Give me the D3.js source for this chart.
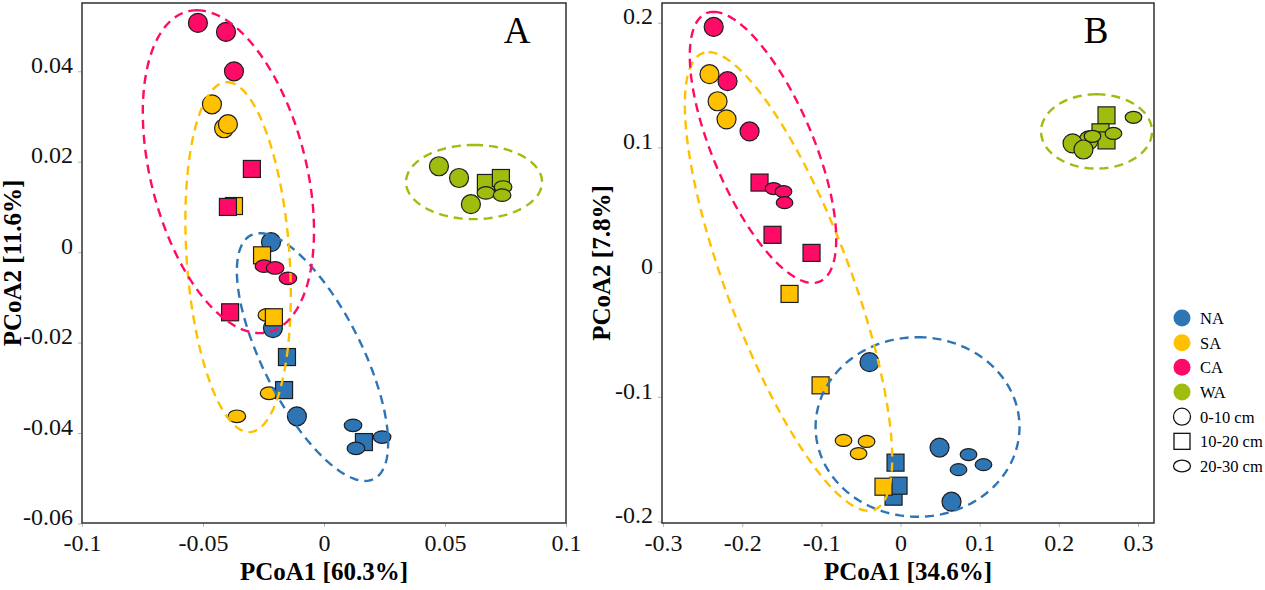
<!DOCTYPE html>
<html>
<head>
<meta charset="utf-8">
<script src="https://cdn.jsdelivr.net/npm/d3@7"></script>
<style>
  body { margin: 0; background: #fff; }
  svg { display: block; }
  text { font-family: "Liberation Serif", "Times New Roman", serif; }
</style>
</head>
<body>
<script>
// groups and soil depths
const groups = ["NA", "SA", "CA", "WA"];
const depths = ["0-10 cm", "10-20 cm", "20-30 cm"];   // 0 circle, 1 square, 2 ellipse

// panel A: [group, depth, PCoA1, PCoA2] (drawing order)
const pointsA = [
  ["NA", 0, -0.0219, 0.0022], ["NA", 0, -0.0211, -0.0168], ["NA", 0, -0.0112, -0.0363],
  ["SA", 0, -0.0463, 0.0327], ["SA", 0, -0.0413, 0.0274], ["SA", 0, -0.0397, 0.0283],
  ["CA", 0, -0.0521, 0.0507], ["CA", 0, -0.0405, 0.0487], ["CA", 0, -0.0372, 0.0400],
  ["WA", 0, 0.0475, 0.0190], ["WA", 0, 0.0558, 0.0164], ["WA", 0, 0.0607, 0.0106],
  ["SA", 2, -0.0236, -0.0139], ["SA", 2, -0.0227, -0.0312], ["SA", 2, -0.0360, -0.0363],
  ["NA", 1, -0.0153, -0.0232], ["NA", 1, -0.0165, -0.0305], ["NA", 1, 0.0165, -0.0420],
  ["SA", 1, -0.0372, 0.0102], ["SA", 1, -0.0256, -0.0007], ["SA", 1, -0.0207, -0.0144],
  ["CA", 1, -0.0298, 0.0184], ["CA", 1, -0.0397, 0.0100], ["CA", 1, -0.0388, -0.0133],
  ["WA", 1, 0.0669, 0.0153], ["WA", 1, 0.0731, 0.0164],
  ["NA", 2, 0.0120, -0.0383], ["NA", 2, 0.0132, -0.0434], ["NA", 2, 0.0240, -0.0409],
  ["CA", 2, -0.0248, -0.0031], ["CA", 2, -0.0202, -0.0035], ["CA", 2, -0.0149, -0.0058],
  ["WA", 2, 0.0669, 0.0131], ["WA", 2, 0.0740, 0.0144], ["WA", 2, 0.0736, 0.0126]
];

// panel B
const pointsB = [
  ["NA", 0, -0.0392, -0.0722], ["NA", 0, 0.0493, -0.1407], ["NA", 0, 0.0644, -0.1841],
  ["SA", 0, -0.2413, 0.1587], ["SA", 0, -0.2311, 0.1370], ["SA", 0, -0.2198, 0.1225],
  ["CA", 0, -0.2360, 0.1966], ["CA", 0, -0.2185, 0.1531], ["CA", 0, -0.1907, 0.1128],
  ["WA", 0, 0.2375, 0.1056], ["WA", 0, 0.2173, 0.1032], ["WA", 0, 0.2311, 0.0983],
  ["NA", 1, -0.0088, -0.1801], ["NA", 1, -0.0063, -0.1528], ["NA", 1, -0.0025, -0.1713],
  ["SA", 1, -0.1402, -0.0175], ["SA", 1, -0.1010, -0.0908], ["SA", 1, -0.0215, -0.1721],
  ["CA", 1, -0.1781, 0.0718], ["CA", 1, -0.1617, 0.0299], ["CA", 1, -0.1124, 0.0154],
  ["WA", 1, 0.2602, 0.1257], ["WA", 1, 0.2526, 0.1121], ["WA", 1, 0.2602, 0.1056],
  ["NA", 2, 0.0859, -0.1463], ["NA", 2, 0.0733, -0.1584], ["NA", 2, 0.1048, -0.1544],
  ["SA", 2, -0.0720, -0.1350], ["SA", 2, -0.0429, -0.1358], ["SA", 2, -0.0530, -0.1455],
  ["CA", 2, -0.1604, 0.0670], ["CA", 2, -0.1478, 0.0646], ["CA", 2, -0.1465, 0.0557],
  ["WA", 2, 0.2425, 0.1089], ["WA", 2, 0.2690, 0.1112], ["WA", 2, 0.2943, 0.1241]
];

// group ellipses in data units: [group, cx, cy, dx of top point, half height, half width at centre]
const ellipsesA = [
  ["NA", -0.00475, -0.0232, -0.0217, 0.0274, 0.0225],
  ["SA", -0.0355, -0.0011, -0.00455, 0.0387, 0.0213],
  ["CA", -0.0395, 0.0178, -0.0130, 0.0357, 0.0329],
  ["WA", 0.0620, 0.0155, 0, 0.0082, 0.0281]
];
const ellipsesB = [
  ["NA", 0.0215, -0.1242, 0, 0.0720, 0.1288],
  ["SA", -0.1415, -0.0075, -0.1010, 0.1839, 0.0834],
  ["CA", -0.1737, 0.1000, -0.0625, 0.1087, 0.0682],
  ["WA", 0.2476, 0.1128, 0, 0.0298, 0.0701]
];

const ticksAX = [-0.1, -0.05, 0, 0.05, 0.1];
const ticksAY = [-0.06, -0.04, -0.02, 0, 0.02, 0.04];
const ticksBX = [-0.3, -0.2, -0.1, 0, 0.1, 0.2, 0.3];
const ticksBY = [-0.2, -0.1, 0, 0.1, 0.2];

const colors = { NA: "#2E75B6", SA: "#FFC000", CA: "#FF0A66", WA: "#9EBD0F" };

const width = 1265, height = 590;
const plotTop = 3, plotBottom = 523;

const svg = d3.select("body").append("svg")
  .attr("width", width).attr("height", height);

const fmt = d => d === 0 ? "0" : String(+d.toFixed(4));

function marker(g, depth, cx, cy, s) {
  if (depth === 0) {
    return g.append("circle").attr("cx", cx).attr("cy", cy).attr("r", s.r);
  } else if (depth === 1) {
    return g.append("rect").attr("x", cx - s.sq / 2).attr("y", cy - s.sq / 2)
      .attr("width", s.sq).attr("height", s.sq);
  }
  return g.append("ellipse").attr("cx", cx).attr("cy", cy).attr("rx", s.ex).attr("ry", s.ey);
}

function drawPanel(cfg) {
  const x = d3.scaleLinear().domain(cfg.xDomain).range([cfg.left, cfg.right]);
  const y = d3.scaleLinear().domain(cfg.yDomain).range([plotBottom, plotTop]);
  const g = svg.append("g");

  // axes
  const ax = g.append("g").attr("transform", `translate(0,${plotBottom})`)
    .call(d3.axisBottom(x).tickValues(cfg.xTicks).tickSize(4).tickFormat(fmt));
  ax.selectAll("text").attr("y", 28).attr("dy", 0);
  const ay = g.append("g").attr("transform", `translate(${cfg.left},0)`)
    .call(d3.axisLeft(y).tickValues(cfg.yTicks).tickSize(4).tickPadding(5).tickFormat(fmt));
  ay.selectAll("text").attr("dy", "0.05em");
  [ax, ay].forEach(a => {
    a.select(".domain").remove();
    a.selectAll("line").attr("stroke", "#b5b5b5");
    a.selectAll("text").attr("font-size", 24).attr("fill", "#111")
      .attr("font-family", "Liberation Serif, serif");
  });

  g.append("rect")
    .attr("x", cfg.left).attr("y", plotTop)
    .attr("width", cfg.right - cfg.left).attr("height", plotBottom - plotTop)
    .attr("fill", "none").attr("stroke", "#3c3c3c").attr("stroke-width", 1.6);

  // points
  const pts = g.append("g").attr("stroke", "#1e1e1e").attr("stroke-width", 1.2);
  cfg.points.forEach(([grp, d, px, py]) => {
    marker(pts, d, x(px), y(py), cfg.size).attr("fill", colors[grp]);
  });

  // dashed group ellipses
  const line = d3.line().curve(d3.curveLinearClosed);
  const ts = d3.range(0, 2 * Math.PI, Math.PI / 90);
  cfg.ellipses.forEach(([grp, cx, cy, dx, dy, w]) => {
    const path = ts.map(t => [x(cx + dx * Math.cos(t) + w * Math.sin(t)), y(cy + dy * Math.cos(t))]);
    g.append("path").attr("d", line(path))
      .attr("fill", "none").attr("stroke", colors[grp])
      .attr("stroke-width", 2.4).attr("stroke-dasharray", "9,6");
  });

  // titles
  g.append("text").attr("x", (cfg.left + cfg.right) / 2).attr("y", 580)
    .attr("text-anchor", "middle").attr("font-size", 25).attr("font-weight", "bold")
    .text(cfg.xTitle);
  g.append("text")
    .attr("transform", `translate(${cfg.yTitleX},${(plotTop + plotBottom) / 2}) rotate(-90)`)
    .attr("text-anchor", "middle").attr("font-size", 25).attr("font-weight", "bold")
    .text(cfg.yTitle);
  g.append("text").attr("x", cfg.labelX).attr("y", 43)
    .attr("text-anchor", "middle").attr("font-size", 37).text(cfg.label);
}

drawPanel({
  xDomain: [-0.1, 0.1], yDomain: [-0.0599, 0.0551], left: 82, right: 566,
  xTicks: ticksAX, yTicks: ticksAY, points: pointsA, ellipses: ellipsesA,
  size: { r: 9.5, sq: 17, ex: 8.8, ey: 6.3 },
  xTitle: "PCoA1 [60.3%]", yTitle: "PCoA2 [11.6%]", yTitleX: 21,
  label: "A", labelX: 517
});

drawPanel({
  xDomain: [-0.3013, 0.3202], yDomain: [-0.2012, 0.2158], left: 662, right: 1154,
  xTicks: ticksBX, yTicks: ticksBY, points: pointsB, ellipses: ellipsesB,
  size: { r: 9.5, sq: 17, ex: 8.3, ey: 6 },
  xTitle: "PCoA1 [34.6%]", yTitle: "PCoA2 [7.8%]", yTitleX: 610,
  label: "B", labelX: 1096
});

// legend
const legend = svg.append("g");
const ly = d3.scalePoint().domain(d3.range(7)).range([318, 466]);
groups.forEach((grp, i) => {
  legend.append("circle").attr("cx", 1182).attr("cy", ly(i)).attr("r", 8.5)
    .attr("fill", colors[grp]);
  legend.append("text").attr("x", 1200).attr("y", ly(i) + 6)
    .attr("font-size", 16.5).text(grp);
});
depths.forEach((dep, j) => {
  const i = j + 4;
  marker(legend, j, 1182, ly(i), { r: 8.5, sq: 16, ex: 8.5, ey: 5.8 })
    .attr("fill", "none").attr("stroke", "#111").attr("stroke-width", 1.3);
  legend.append("text").attr("x", 1200).attr("y", ly(i) + 6)
    .attr("font-size", 16.5).text(dep);
});
</script>
</body>
</html>
